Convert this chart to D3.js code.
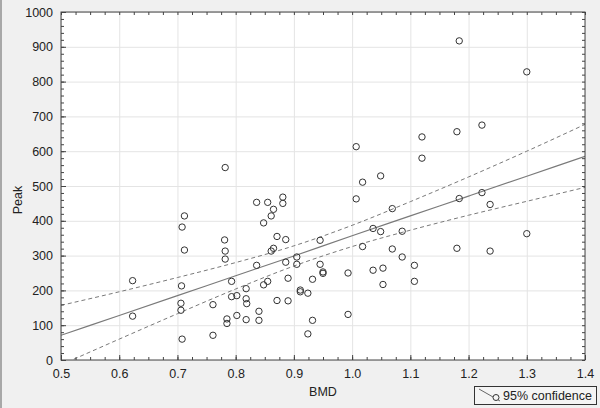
<!DOCTYPE html>
<html>
<head>
<meta charset="utf-8">
<script src="https://cdn.jsdelivr.net/npm/d3@7"></script>
<style>
    body { margin: 0; background: #f0f0f0; }
    #chart svg { display: block; }
    text { font-family: "Liberation Sans", Arial, sans-serif; fill: #222; }
</style>
</head>
<body>
<div id="chart"></div>
<script>
// Scatter data: BMD (x) and Peak (y)
const bmd = [
    0.623, 0.623, 0.712, 0.708, 0.712, 0.707, 0.706, 0.706, 0.708, 0.761,
    0.761, 0.782, 0.781, 0.782, 0.782, 0.785, 0.785, 0.793, 0.793, 0.802,
    0.802, 0.818, 0.818, 0.819, 0.818, 0.836, 0.836, 0.840, 0.840, 0.848,
    0.848, 0.855, 0.855, 0.861, 0.861, 0.865, 0.865, 0.871, 0.871, 0.881,
    0.881, 0.886, 0.886, 0.890, 0.890, 0.905, 0.905, 0.911, 0.911, 0.924,
    0.924, 0.932, 0.932, 0.945, 0.945, 0.950, 0.950, 0.993, 0.993, 1.007,
    1.007, 1.018, 1.018, 1.036, 1.036, 1.049, 1.049, 1.053, 1.053, 1.069,
    1.069, 1.086, 1.086, 1.107, 1.107, 1.120, 1.120, 1.180, 1.180, 1.184,
    1.184, 1.223, 1.223, 1.237, 1.237, 1.300, 1.300
];
const peak = [
    228, 126, 414, 382, 316, 213, 163, 143, 60, 159,
    71, 553, 345, 313, 290, 118, 105, 226, 182, 185,
    128, 205, 176, 162, 116, 453, 272, 140, 114, 394,
    216, 453, 226, 414, 313, 433, 321, 355, 171, 468,
    450, 346, 281, 235, 170, 296, 275, 201, 196, 192,
    75, 232, 114, 344, 275, 253, 249, 250, 131, 613,
    463, 511, 326, 378, 258, 529, 369, 264, 217, 435,
    319, 370, 296, 272, 226, 641, 580, 656, 321, 917,
    464, 675, 481, 447, 313, 828, 363
];

// Fitted line and 95% confidence band, read at each x tick
const fitX = [0.5, 0.6, 0.7, 0.8, 0.9, 1.0, 1.1, 1.2, 1.3, 1.4];
const fitY = [71, 128, 185, 242, 299, 357, 414, 471, 528, 585];
const upperY = [157, 196, 237, 280, 328, 387, 455, 526, 600, 677];
const lowerY = [-14, 60, 133, 204, 270, 326, 373, 416, 456, 496];

// Tick labels
const xTicks = [0.5, 0.6, 0.7, 0.8, 0.9, 1.0, 1.1, 1.2, 1.3, 1.4];
const yTicks = [0, 100, 200, 300, 400, 500, 600, 700, 800, 900, 1000];
const xMinor = d3.range(0.5, 1.4001, 0.025);
const yMinor = d3.range(0, 1000.1, 20);

const margin = { top: 12, right: 15, bottom: 48, left: 61 };
const width = 600 - margin.left - margin.right;
const height = 408 - margin.top - margin.bottom;

const root = d3
    .select("#chart")
    .append("svg")
    .attr("width", 600)
    .attr("height", 408);

// grey strip on the left edge of the window
root.append("rect").attr("x", 0).attr("y", 0).attr("width", 2).attr("height", 408).attr("fill", "#a8a8a8");

const svg = root
    .append("g")
    .attr("transform", `translate(${margin.left},${margin.top})`);

const xScale = d3.scaleLinear().domain([0.5, 1.4]).range([0, width]);
const yScale = d3.scaleLinear().domain([0, 1000]).range([height, 0]);

// Plot background
svg.append("rect")
    .attr("width", width)
    .attr("height", height)
    .attr("fill", "#fff");

// Grid lines
svg.append("g")
    .attr("class", "grid")
    .attr("transform", `translate(0, ${height})`)
    .call(d3.axisBottom(xScale).tickValues(xTicks).tickSize(-height).tickFormat(""));
svg.append("g")
    .attr("class", "grid")
    .call(d3.axisLeft(yScale).tickValues(yTicks).tickSize(-width).tickFormat(""));
svg.selectAll(".grid line").attr("stroke", "#e4e4e4");
svg.selectAll(".grid path").remove();

// Clip lines to the plot
svg.append("clipPath").attr("id", "clip")
    .append("rect").attr("width", width).attr("height", height);

const line = d3
    .line()
    .x((d) => xScale(d[0]))
    .y((d) => yScale(d[1]))
    .curve(d3.curveMonotoneX);

const lines = svg.append("g").attr("clip-path", "url(#clip)");
lines.append("path")
    .datum(d3.zip(fitX, fitY))
    .attr("d", line)
    .attr("fill", "none")
    .attr("stroke", "#7a7a7a")
    .attr("stroke-width", 1.2);
[upperY, lowerY].forEach((band) => {
    lines.append("path")
        .datum(d3.zip(fitX, band))
        .attr("d", line)
        .attr("fill", "none")
        .attr("stroke", "#7a7a7a")
        .attr("stroke-width", 1)
        .attr("stroke-dasharray", "4,3");
});

// Points
svg.append("g")
    .selectAll("circle")
    .data(d3.zip(bmd, peak))
    .join("circle")
    .attr("cx", (d) => xScale(d[0]))
    .attr("cy", (d) => yScale(d[1]))
    .attr("r", 3.2)
    .attr("fill", "none")
    .attr("stroke", "#333")
    .attr("stroke-width", 1);

// Axes with inward ticks on all four sides
function styleAxis(g) {
    g.select(".domain").remove();
    g.selectAll("line").attr("stroke", "#444");
    g.selectAll("text").style("font-size", "12.5px").attr("fill", "#222").style("font-family", "Liberation Sans, Arial, sans-serif");
}
svg.append("g")
    .attr("transform", `translate(0, ${height})`)
    .call(d3.axisBottom(xScale).tickValues(xMinor).tickSize(-3).tickFormat(""))
    .call(styleAxis);
svg.append("g")
    .attr("transform", `translate(0, ${height})`)
    .call(d3.axisBottom(xScale).tickValues(xTicks).tickSize(-5).tickPadding(9).tickFormat(d3.format(".1f")))
    .call(styleAxis);
svg.append("g")
    .call(d3.axisTop(xScale).tickValues(xMinor).tickSize(-3).tickFormat(""))
    .call(styleAxis);
svg.append("g")
    .call(d3.axisLeft(yScale).tickValues(yMinor).tickSize(-3).tickFormat(""))
    .call(styleAxis);
svg.append("g")
    .call(d3.axisLeft(yScale).tickValues(yTicks).tickSize(-5).tickPadding(8).tickFormat(d3.format("d")))
    .call(styleAxis);
svg.append("g")
    .attr("transform", `translate(${width}, 0)`)
    .call(d3.axisRight(yScale).tickValues(yMinor).tickSize(-3).tickFormat(""))
    .call(styleAxis);

// Frame
svg.append("rect")
    .attr("width", width)
    .attr("height", height)
    .attr("fill", "none")
    .attr("stroke", "#444")
    .attr("stroke-width", 1);

// Axis titles
root.append("text")
    .attr("x", margin.left + width / 2)
    .attr("y", 396)
    .attr("text-anchor", "middle")
    .style("font-size", "12.5px")
    .text("BMD");
root.append("text")
    .attr("transform", "translate(22, 200) rotate(-90)")
    .attr("text-anchor", "middle")
    .style("font-size", "12.5px")
    .text("Peak");

// Legend
const legend = root.append("g");
legend.append("rect")
    .attr("x", 474.5).attr("y", 386.5)
    .attr("width", 122).attr("height", 18)
    .attr("fill", "#f4f4f4")
    .attr("stroke", "#333");
legend.append("line")
    .attr("x1", 479).attr("y1", 389).attr("x2", 500).attr("y2", 401)
    .attr("stroke", "#666");
legend.append("circle")
    .attr("cx", 496).attr("cy", 397.5).attr("r", 3)
    .attr("fill", "#f4f4f4").attr("stroke", "#333");
legend.append("text")
    .attr("x", 503).attr("y", 400)
    .style("font-size", "12.5px")
    .text("95% confidence");
</script>
</body>
</html>
